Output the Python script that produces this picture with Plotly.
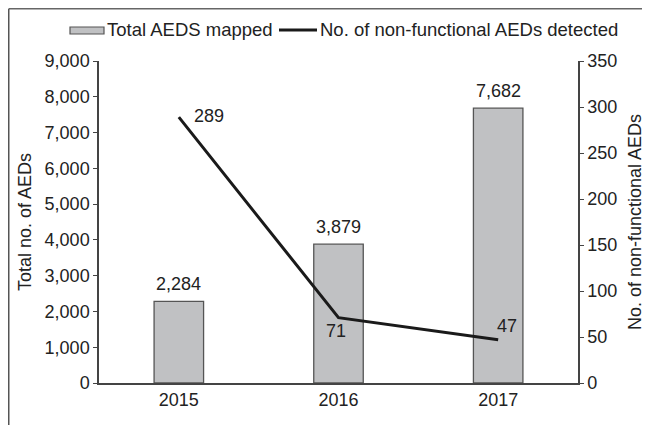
import plotly.graph_objects as go

years = ["2015", "2016", "2017"]
total_mapped = [2284, 3879, 7682]
nonfunctional = [289, 71, 47]
legend_names = ["Total AEDS mapped", "No. of non-functional AEDs detected"]
# label offsets (px) for the line labels
line_label_shift = [(30, 1), (-3, -13), (9, 14)]
BAR_LABEL_LIFT = 17

FONT = "Liberation Sans, Arial, Helvetica, sans-serif"
TXT = "#222222"
FS = 18
LEG_FS = 18.5
BAR_FILL = "#c0c1c3"
BAR_EDGE = "#555555"
LINE_C = "#1a1a1a"

# page body adds an 8px margin; figure is sized so the page fits the window
OFF = 8
W, H = 650 - OFF, 425 - OFF
L, R, T, B = 99 - OFF, 72, 61 - OFF, 42
pw, ph = W - L - R, H - T - B


def px_x(p):  # p in reference-image pixels
    return (p - OFF - L) / pw


def px_y(p):
    return (H - B - (p - OFF)) / ph


fig = go.Figure()
fig.add_trace(go.Bar(
    x=years, y=total_mapped, name=legend_names[0],
    marker=dict(color=BAR_FILL, line=dict(color=BAR_EDGE, width=1.3)),
    showlegend=False,
))
fig.add_trace(go.Scatter(
    x=years, y=nonfunctional, name=legend_names[1],
    yaxis="y2", mode="lines",
    line=dict(color=LINE_C, width=3),
    showlegend=False,
))

annotations = []
# category positions are given as indexes (numeric-looking year strings would be
# read as positions by plotly's annotation code)
for i, v in enumerate(total_mapped):
    annotations.append(dict(x=i, y=v, xref="x", yref="y", text=f"{v:,}",
                            showarrow=False, xanchor="center", yanchor="middle",
                            yshift=BAR_LABEL_LIFT,
                            font=dict(size=FS, color=TXT, family=FONT)))
for i, (v, (dx, dy)) in enumerate(zip(nonfunctional, line_label_shift)):
    annotations.append(dict(x=i, y=v, xref="x", yref="y2", text=str(v),
                            showarrow=False, xanchor="center", yanchor="middle",
                            xshift=dx, yshift=dy,
                            font=dict(size=FS, color=TXT, family=FONT)))

# custom legend (wide bar swatch + line swatch)
annotations.append(dict(x=px_x(105), y=px_y(30), xref="paper", yref="paper",
                        text=legend_names[0], showarrow=False, xanchor="left",
                        yanchor="middle", font=dict(size=LEG_FS, color=TXT, family=FONT)))
annotations.append(dict(x=px_x(318), y=px_y(30), xref="paper", yref="paper",
                        text=legend_names[1], showarrow=False, xanchor="left",
                        yanchor="middle", font=dict(size=LEG_FS, color=TXT, family=FONT)))

shapes = [
    # legend swatches
    dict(type="rect", xref="paper", yref="paper", x0=px_x(70), x1=px_x(104),
         y0=px_y(34), y1=px_y(27), fillcolor=BAR_FILL,
         line=dict(color=BAR_EDGE, width=1.2)),
    dict(type="line", xref="paper", yref="paper", x0=px_x(279), x1=px_x(317),
         y0=px_y(30), y1=px_y(30), line=dict(color=LINE_C, width=3)),
    # outer frame (top and left)
    dict(type="line", xref="paper", yref="paper", x0=px_x(OFF + 0.75), x1=px_x(650),
         y0=px_y(OFF + 0.75), y1=px_y(OFF + 0.75), line=dict(color="#666666", width=1.5)),
    dict(type="line", xref="paper", yref="paper", x0=px_x(OFF + 0.75), x1=px_x(OFF + 0.75),
         y0=px_y(OFF + 0.75), y1=px_y(425), line=dict(color="#555555", width=1.5)),
]

fig.update_layout(
    width=W, height=H,
    margin=dict(l=L, r=R, t=T, b=B, pad=0, autoexpand=False),
    paper_bgcolor="white", plot_bgcolor="white",
    font=dict(family=FONT, size=FS, color=TXT),
    bargap=0.69,
    showlegend=False,
    xaxis=dict(type="category", categoryorder="array", categoryarray=years,
               range=[-0.5, len(years) - 0.5],
               showline=True, linecolor="#444444", linewidth=1.5, ticks="",
               showgrid=False, tickfont=dict(size=FS), automargin=False),
    yaxis=dict(range=[0, 9000], dtick=1000, tickformat=",", showline=True,
               linecolor="#444444", linewidth=1.5, ticks="outside", ticklen=4,
               tickcolor="#444444", showgrid=False, zeroline=False,
               automargin=False,
               title=dict(text="Total no. of AEDs", font=dict(size=FS), standoff=8),
               tickfont=dict(size=FS)),
    yaxis2=dict(range=[0, 350], dtick=50, overlaying="y", side="right",
                showline=True, linecolor="#444444", linewidth=1.5,
                ticks="outside", ticklen=4, tickcolor="#444444",
                showgrid=False, zeroline=False, automargin=False,
                title=dict(text="No. of non-functional AEDs", font=dict(size=FS),
                           standoff=12),
                tickfont=dict(size=FS)),
    annotations=annotations,
    shapes=shapes,
)

fig.write_html("out.html")
